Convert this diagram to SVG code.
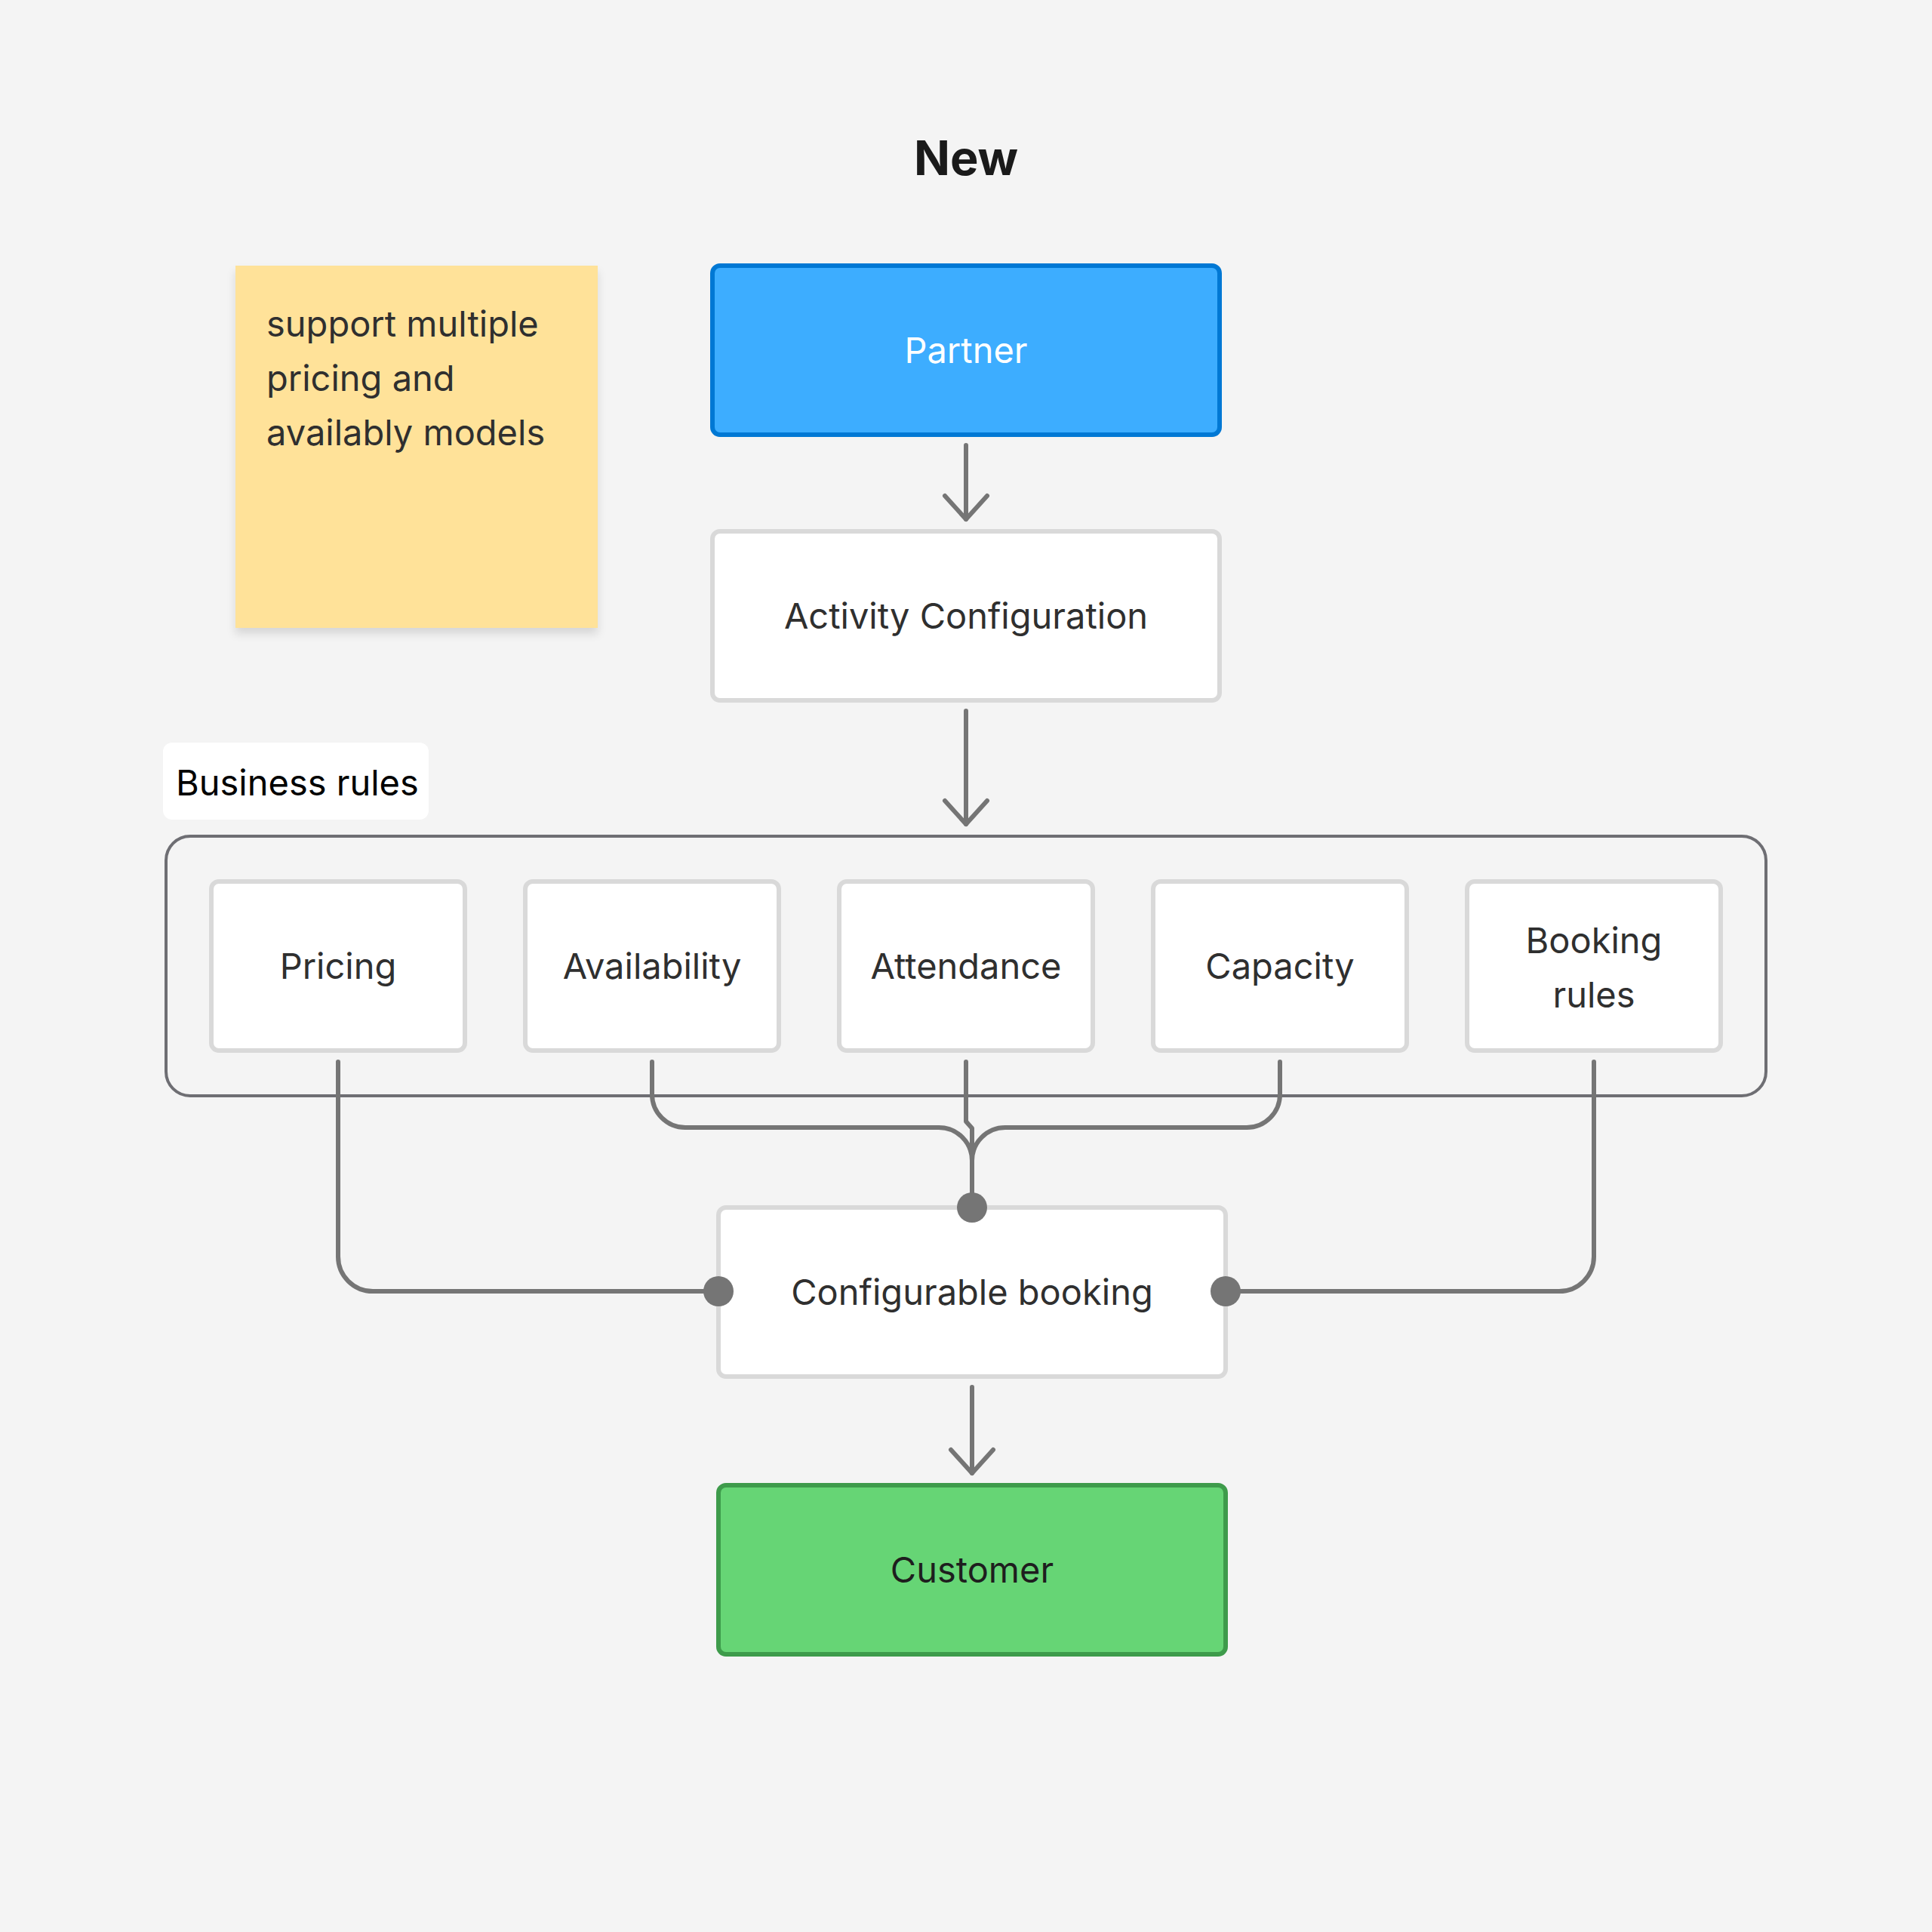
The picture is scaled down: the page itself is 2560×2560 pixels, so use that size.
<svg xmlns="http://www.w3.org/2000/svg" width="2560" height="2560" viewBox="0 0 2560 2560">
  <defs>
    <style>
      .t { font-family: Inter, "Noto Sans", "Liberation Sans", sans-serif; font-size: 47px; fill: #2f2f2f; text-anchor: middle; }
      .box { fill: #ffffff; stroke: #d9d9d9; stroke-width: 6; }
      .conn { fill: none; stroke: #757575; stroke-width: 6; stroke-linecap: round; stroke-linejoin: round; }
      .dot { fill: #757575; }
    </style>
    <marker id="arrow" viewBox="-40 -40 80 80" markerWidth="80" markerHeight="80" refX="0" refY="0" orient="auto" markerUnits="userSpaceOnUse">
      <path d="M-31 -28 L0 0 L-31 28" fill="none" stroke="#757575" stroke-width="6" stroke-linecap="round" stroke-linejoin="round"/>
    </marker>
    <filter id="shadow" x="-10%" y="-10%" width="120%" height="125%">
      <feDropShadow dx="0" dy="8" stdDeviation="6" flood-color="#000000" flood-opacity="0.12"/>
    </filter>
  </defs>
  <rect x="0" y="0" width="2560" height="2560" fill="#f4f4f4"/>

  <g id="title">
    <text x="1280" y="232" font-family="Inter, 'Noto Sans', 'Liberation Sans', sans-serif" font-size="63" font-weight="700" fill="#1a1a1a" text-anchor="middle">New</text>
  </g>

  <g id="sticky-note">
    <rect x="312" y="352" width="480" height="480" fill="#ffe299" filter="url(#shadow)"/>
    <text class="t" x="353" y="446" style="text-anchor:start">support multiple</text>
    <text class="t" x="353" y="518" style="text-anchor:start">pricing and</text>
    <text class="t" x="353" y="590" style="text-anchor:start">availably models</text>
  </g>

  <g id="partner">
    <rect x="944" y="352" width="672" height="224" rx="10" fill="#3dadff" stroke="#0078d4" stroke-width="6"/>
    <text class="t" x="1280" y="481" style="fill:#ffffff">Partner</text>
  </g>

  <g id="activity-configuration">
    <rect class="box" x="944" y="704" width="672" height="224" rx="10"/>
    <text class="t" x="1280" y="833">Activity Configuration</text>
  </g>

  <g id="business-rules-label">
    <rect x="216" y="984" width="352" height="102" rx="12" fill="#ffffff"/>
    <text x="233" y="1054" font-family="Inter, 'Noto Sans', 'Liberation Sans', sans-serif" font-size="47" fill="#000000">Business rules</text>
  </g>

  <g id="business-rules">
    <rect x="220" y="1108" width="2120" height="344" rx="32" fill="none" stroke="#6e6e73" stroke-width="4"/>
  </g>

  <g id="pricing">
    <rect class="box" x="280" y="1168" width="336" height="224" rx="10"/>
    <text class="t" x="448" y="1297">Pricing</text>
  </g>
  <g id="availability">
    <rect class="box" x="696" y="1168" width="336" height="224" rx="10"/>
    <text class="t" x="864" y="1297">Availability</text>
  </g>
  <g id="attendance">
    <rect class="box" x="1112" y="1168" width="336" height="224" rx="10"/>
    <text class="t" x="1280" y="1297">Attendance</text>
  </g>
  <g id="capacity">
    <rect class="box" x="1528" y="1168" width="336" height="224" rx="10"/>
    <text class="t" x="1696" y="1297">Capacity</text>
  </g>
  <g id="booking-rules">
    <rect class="box" x="1944" y="1168" width="336" height="224" rx="10"/>
    <text class="t" x="2112" y="1263">Booking</text>
    <text class="t" x="2112" y="1335">rules</text>
  </g>

  <g id="configurable-booking">
    <rect class="box" x="952" y="1600" width="672" height="224" rx="10"/>
    <text class="t" x="1288" y="1729">Configurable booking</text>
  </g>

  <g id="customer">
    <rect x="952" y="1968" width="672" height="224" rx="10" fill="#66d575" stroke="#3e9b4b" stroke-width="6"/>
    <text class="t" x="1288" y="2097" style="fill:#1e1e1e">Customer</text>
  </g>

  <g id="connectors">
    <path class="conn" d="M1280 590 V688" marker-end="url(#arrow)"/>
    <path class="conn" d="M1280 942 V1092" marker-end="url(#arrow)"/>
    <path class="conn" d="M1288 1838 V1952" marker-end="url(#arrow)"/>

    <path class="conn" d="M448 1407 V1665 A46 46 0 0 0 494 1711 H952"/>
    <path class="conn" d="M2112 1407 V1665 A46 46 0 0 1 2066 1711 H1624"/>
    <path class="conn" d="M864 1407 V1450 A44 44 0 0 0 908 1494 H1244 A44 44 0 0 1 1288 1538 V1600"/>
    <path class="conn" d="M1696 1407 V1450 A44 44 0 0 1 1652 1494 H1332 A44 44 0 0 0 1288 1538 V1600"/>
    <path class="conn" d="M1280 1407 V1486 L1288 1495 V1600"/>

    <circle class="dot" cx="952" cy="1711" r="20"/>
    <circle class="dot" cx="1624" cy="1711" r="20"/>
    <circle class="dot" cx="1288" cy="1600" r="20"/>
  </g>
</svg>
